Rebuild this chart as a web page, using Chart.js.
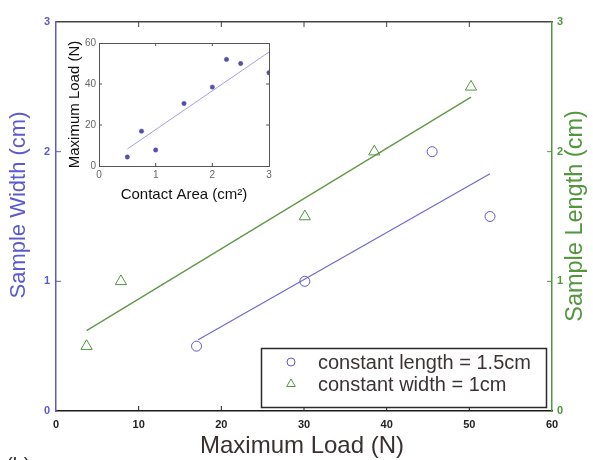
<!DOCTYPE html>
<html>
<head>
<meta charset="utf-8">
<script src="https://cdn.jsdelivr.net/npm/chart.js@4.4.1/dist/chart.umd.min.js"></script>
<style>
  html, body { margin: 0; padding: 0; background: #ffffff; }
  #wrap { position: relative; width: 593px; height: 460px; overflow: hidden; }
  #main { position: absolute; left: 0; top: 0; }
  #inset { position: absolute; left: 60px; top: 28px; }
</style>
</head>
<body>
<div id="wrap">
  <canvas id="main" width="593" height="460"></canvas>
  <canvas id="inset" width="240" height="176"></canvas>
</div>
<script>
// ---------- Data ----------
// Main chart: Maximum Load (N) vs sample size
const widthSeriesLoad   = [17.0, 30.1, 45.5, 52.5];       // constant length = 1.5cm
const widthSeriesValues = [0.5, 1.0, 2.0, 1.5];           // Sample Width (cm)
const widthFitLoad      = [17.2, 52.5];
const widthFitValues    = [0.55, 1.83];

const lengthSeriesLoad   = [3.7, 7.85, 30.1, 38.5, 50.2]; // constant width = 1cm
const lengthSeriesValues = [0.5, 1.0, 1.5, 2.0, 2.5];     // Sample Length (cm)
const lengthFitLoad      = [3.7, 50.2];
const lengthFitValues    = [0.62, 2.42];

const xTickValues = [0, 10, 20, 30, 40, 50, 60];
const yTickValues = [0, 1, 2, 3];

const seriesLabels = ["constant length = 1.5cm", "constant width = 1cm"];
const xTitle = "Maximum Load (N)";
const yLeftTitle = "Sample Width (cm)";
const yRightTitle = "Sample Length (cm)";
const panelLabel = "(b)";

// Inset: Maximum Load vs Contact Area
const insetArea = [0.5, 0.75, 1.0, 1.5, 2.0, 2.25, 2.5, 3.0];
const insetLoad = [4.4, 17.0, 7.8, 30.5, 38.5, 52.0, 50.0, 45.5];
const insetFitArea = [0.5, 3.0];
const insetFitLoad = [8.3, 55.6];
const insetXTicks = [0, 1, 2, 3];
const insetYTicks = [0, 20, 40, 60];
const insetXTitle = "Contact Area (cm²)";
const insetYTitle = "Maximum Load (N)";

// ---------- Styles ----------
const FONT = "'Liberation Sans', Arial, sans-serif";
const BLUE = "rgb(92,90,205)";
const BLUE_LINE = "rgb(112,104,205)";
const GREEN = "rgb(82,150,62)";
const GREEN_LINE = "rgb(98,152,72)";

function pts(xs, ys) { return xs.map((x, i) => ({ x: x, y: ys[i] })); }

// Inward tick marks drawn through each scale
const inwardTicks = {
  id: 'inwardTicks',
  afterDatasetsDraw(chart, args, opts) {
    const ctx = chart.ctx;
    const ca = chart.chartArea;
    const len = opts.length || 5;
    ctx.save();
    Object.values(chart.scales).forEach(scale => {
      const c = (scale.options.tickMarkColor) || '#333';
      ctx.strokeStyle = c;
      ctx.lineWidth = 1;
      scale.ticks.forEach(t => {
        if (t.value === scale.min || t.value === scale.max) return;
        const p = scale.getPixelForValue(t.value);
        ctx.beginPath();
        if (scale.position === 'bottom') { ctx.moveTo(p, ca.bottom); ctx.lineTo(p, ca.bottom - len); }
        else if (scale.position === 'top') { ctx.moveTo(p, ca.top); ctx.lineTo(p, ca.top + len); }
        else if (scale.position === 'left') { ctx.moveTo(ca.left, p); ctx.lineTo(ca.left + len, p); }
        else { ctx.moveTo(ca.right, p); ctx.lineTo(ca.right - len, p); }
        ctx.stroke();
      });
    });
    ctx.restore();
  }
};

// Legend box inside plot + axis titles for main chart
const mainDecor = {
  id: 'mainDecor',
  afterDraw(chart) {
    const ctx = chart.ctx;
    const ca = chart.chartArea;
    ctx.save();
    // Legend
    ctx.strokeStyle = '#2a2a2a';
    ctx.lineWidth = 1.5;
    ctx.fillStyle = '#ffffff';
    ctx.fillRect(261, 348, 285, 59);
    ctx.strokeRect(261.5, 348.5, 285, 59);
    const entries = chart.data.datasets.filter(d => d.inLegend);
    entries.forEach((d, i) => {
      const y = 362 + i * 22;
      const opts = { pointStyle: d.pointStyle, radius: d.pointStyle === 'triangle' ? 5 : 4, borderWidth: 1 };
      ctx.strokeStyle = d.borderColor;
      ctx.fillStyle = 'rgba(0,0,0,0)';
      ctx.lineWidth = 1;
      if (Chart.helpers && Chart.helpers.drawPoint) Chart.helpers.drawPoint(ctx, opts, 291, y);
      ctx.fillStyle = '#3c3434';
      ctx.font = '20px ' + FONT;
      ctx.textAlign = 'left';
      ctx.textBaseline = 'middle';
      ctx.fillText(d.label, 318, y + 1);
    });
    // Titles
    ctx.fillStyle = '#3a3030';
    ctx.font = '24px ' + FONT;
    ctx.textAlign = 'center';
    ctx.textBaseline = 'middle';
    ctx.fillText(xTitle, 302, 446);

    ctx.save();
    ctx.translate(19, 205);
    ctx.rotate(-Math.PI / 2);
    ctx.fillStyle = BLUE;
    ctx.font = '22px ' + FONT;
    ctx.fillText(yLeftTitle, 0, 0);
    ctx.restore();

    ctx.save();
    ctx.translate(576, 216);
    ctx.rotate(-Math.PI / 2);
    ctx.fillStyle = GREEN;
    ctx.font = '23.5px ' + FONT;
    ctx.fillText(yRightTitle, 0, 0);
    ctx.restore();

    // panel label (cut off at the bottom edge)
    ctx.fillStyle = '#333';
    ctx.font = '20px ' + FONT;
    ctx.textAlign = 'left';
    ctx.textBaseline = 'top';
    ctx.fillText(panelLabel, 6, 456);
    ctx.restore();
  }
};

function fixSize(prop, v) { return function (s) { s[prop] = v; }; }

new Chart(document.getElementById('main'), {
  type: 'scatter',
  data: {
    datasets: [
      { label: seriesLabels[0], inLegend: true, data: pts(widthSeriesLoad, widthSeriesValues),
        pointStyle: 'circle', pointRadius: 5, borderColor: BLUE, backgroundColor: 'rgba(0,0,0,0)',
        pointBorderWidth: 1, xAxisID: 'x', yAxisID: 'y' },
      { label: seriesLabels[1], inLegend: true, data: pts(lengthSeriesLoad, lengthSeriesValues),
        pointStyle: 'triangle', pointRadius: 6.5, borderColor: GREEN, backgroundColor: 'rgba(0,0,0,0)',
        pointBorderWidth: 1, xAxisID: 'x', yAxisID: 'y2' },
      { label: 'width fit', data: pts(widthFitLoad, widthFitValues), showLine: true, pointRadius: 0,
        borderColor: BLUE_LINE, borderWidth: 1.2, xAxisID: 'x', yAxisID: 'y' },
      { label: 'length fit', data: pts(lengthFitLoad, lengthFitValues), showLine: true, pointRadius: 0,
        borderColor: GREEN_LINE, borderWidth: 1.4, xAxisID: 'x', yAxisID: 'y2' }
    ]
  },
  options: {
    responsive: false,
    animation: false,
    layout: { padding: 0 },
    plugins: { legend: { display: false }, tooltip: { enabled: false }, inwardTicks: { length: 5 } },
    scales: {
      x: {
        type: 'linear', position: 'bottom', min: 0, max: 60,
        afterBuildTicks: s => { s.ticks = xTickValues.map(v => ({ value: v })); },
        afterFit: fixSize('height', 49),
        grid: { display: false, drawTicks: false },
        border: { display: true, color: '#1a1a1a', width: 1.5 },
        ticks: { padding: 7, color: '#222', font: { family: FONT, size: 11, weight: 'bold' }, maxRotation: 0 },
        tickMarkColor: '#1a1a1a'
      },
      x2: {
        type: 'linear', position: 'top', min: 0, max: 60,
        afterBuildTicks: s => { s.ticks = xTickValues.map(v => ({ value: v })); },
        afterFit: fixSize('height', 22),
        grid: { display: false, drawTicks: false },
        border: { display: true, color: '#444', width: 1.5 },
        ticks: { display: false },
        tickMarkColor: '#444'
      },
      y: {
        type: 'linear', position: 'left', min: 0, max: 3,
        afterBuildTicks: s => { s.ticks = yTickValues.map(v => ({ value: v })); },
        afterFit: fixSize('width', 56),
        grid: { display: false, drawTicks: false },
        border: { display: true, color: BLUE, width: 1.5 },
        ticks: { padding: 6, color: BLUE, font: { family: FONT, size: 11, weight: 'bold' } },
        tickMarkColor: BLUE
      },
      y2: {
        type: 'linear', position: 'right', min: 0, max: 3,
        afterBuildTicks: s => { s.ticks = yTickValues.map(v => ({ value: v })); },
        afterFit: fixSize('width', 41),
        grid: { display: false, drawTicks: false },
        border: { display: true, color: GREEN, width: 1.5 },
        ticks: { padding: 5, color: GREEN, font: { family: FONT, size: 11, weight: 'bold' } },
        tickMarkColor: GREEN
      }
    }
  },
  plugins: [inwardTicks, mainDecor]
});

// ---------- Inset ----------
const INSET_GRAY = '#555';
new Chart(document.getElementById('inset'), {
  type: 'scatter',
  data: {
    datasets: [
      { label: 'load', data: pts(insetArea, insetLoad), pointStyle: 'circle', pointRadius: 2.2,
        backgroundColor: 'rgb(84,80,170)', borderColor: 'rgb(84,80,170)', pointBorderWidth: 0.5 },
      { label: 'fit', data: pts(insetFitArea, insetFitLoad), showLine: true, pointRadius: 0,
        borderColor: 'rgb(165,160,225)', borderWidth: 1 }
    ]
  },
  options: {
    responsive: false,
    animation: false,
    layout: { padding: 0 },
    plugins: { legend: { display: false }, tooltip: { enabled: false }, inwardTicks: { length: 3 } },
    scales: {
      x: {
        type: 'linear', position: 'bottom', min: 0, max: 3,
        afterBuildTicks: s => { s.ticks = insetXTicks.map(v => ({ value: v })); },
        afterFit: fixSize('height', 38),
        grid: { display: false, drawTicks: false },
        border: { display: true, color: INSET_GRAY, width: 1 },
        ticks: { padding: 3, color: '#666', font: { family: FONT, size: 10 } , maxRotation: 0},
        title: { display: true, text: insetXTitle, color: '#111', font: { family: FONT, size: 15 }, padding: { top: 2, bottom: 0 } },
        tickMarkColor: INSET_GRAY
      },
      x2: {
        type: 'linear', position: 'top', min: 0, max: 3,
        afterBuildTicks: s => { s.ticks = insetXTicks.map(v => ({ value: v })); },
        afterFit: fixSize('height', 15),
        grid: { display: false, drawTicks: false },
        border: { display: true, color: INSET_GRAY, width: 1 },
        ticks: { display: false },
        tickMarkColor: INSET_GRAY
      },
      y: {
        type: 'linear', position: 'left', min: 0, max: 60,
        afterBuildTicks: s => { s.ticks = insetYTicks.map(v => ({ value: v })); },
        afterFit: fixSize('width', 39),
        grid: { display: false, drawTicks: false },
        border: { display: true, color: INSET_GRAY, width: 1 },
        ticks: { padding: 3, color: '#666', font: { family: FONT, size: 10 } },
        title: { display: true, text: insetYTitle, color: '#111', font: { family: FONT, size: 15 }, padding: { top: 6, bottom: 0 } },
        tickMarkColor: INSET_GRAY
      },
      y2: {
        type: 'linear', position: 'right', min: 0, max: 60,
        afterBuildTicks: s => { s.ticks = insetYTicks.map(v => ({ value: v })); },
        afterFit: fixSize('width', 31),
        grid: { display: false, drawTicks: false },
        border: { display: true, color: INSET_GRAY, width: 1 },
        ticks: { display: false },
        tickMarkColor: INSET_GRAY
      }
    }
  },
  plugins: [inwardTicks]
});
</script>
</body>
</html>
